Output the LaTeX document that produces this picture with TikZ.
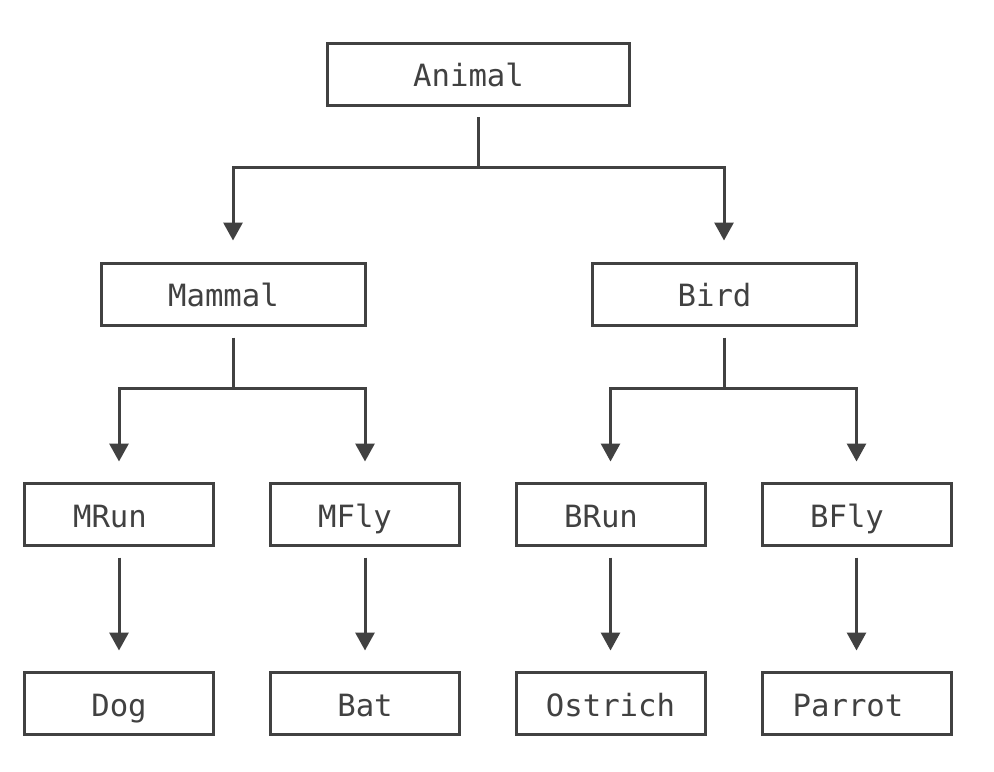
\documentclass[tikz,border=0pt]{standalone}
\usepackage{fontspec}
\setmonofont{DejaVu Sans Mono}
\usetikzlibrary{arrows.meta,calc}
\definecolor{ink}{HTML}{414141}
\tikzset{
  box/.style={draw=ink, line width=2.25pt, minimum height=62*0.75pt, inner sep=0pt, outer sep=0pt},
  bigbox/.style={box, minimum width=302*0.75pt},
  midbox/.style={box, minimum width=264*0.75pt},
  smallbox/.style={box, minimum width=189*0.75pt},
  lbl/.style={anchor=base, inner sep=0pt, text=ink, font=\ttfamily\fontsize{23}{23}\selectfont},
  conn/.style={draw=ink, line width=2.25pt, line join=miter},
  arr/.style={conn, -{Triangle[width=19*0.75pt, length=18*0.75pt]}}
}
\begin{document}
\begin{tikzpicture}[x=0.75pt, y=-0.75pt]
\useasboundingbox[fill=white] (0,0) rectangle (994,771);
% boxes
\node[bigbox] (animal) at (478.5,74) {};
\node[midbox] (mammal) at (233,294.5) {};
\node[midbox] (bird) at (724,294.5) {};
\node[smallbox] (mrun) at (119,514.5) {};
\node[smallbox] (mfly) at (365,514.5) {};
\node[smallbox] (brun) at (610.5,514.5) {};
\node[smallbox] (bfly) at (856.5,514.5) {};
\node[smallbox] (dog) at (119,703.5) {};
\node[smallbox] (bat) at (365,703.5) {};
\node[smallbox] (ostrich) at (610.5,703.5) {};
\node[smallbox] (parrot) at (856.5,703.5) {};
% labels
\node[lbl] (tanimal) at (468.5,86) {Animal};
\node[lbl] (tmammal) at (223.5,306) {Mammal};
\node[lbl] (tbird) at (714.5,306) {Bird};
\node[lbl] (tmrun) at (110,527) {MRun};
\node[lbl] (tmfly) at (355,527) {MFly};
\node[lbl] (tbrun) at (601,527) {BRun};
\node[lbl] (tbfly) at (847,527) {BFly};
\node[lbl] (tdog) at (119,716) {Dog};
\node[lbl] (tbat) at (365,716) {Bat};
\node[lbl] (tostrich) at (610.5,716) {Ostrich};
\node[lbl] (tparrot) at (848,716) {Parrot};
% junctions
\coordinate (j0) at ($(animal.south)+(0,62.5)$);
\coordinate (j1) at ($(mammal.south)+(0,62.5)$);
\coordinate (j2) at ($(bird.south)+(0,62.5)$);
% connectors
\draw[conn, shorten <=12*0.75pt] (animal.south) -- (j0);
\draw[arr, shorten >=23*0.75pt] (j0) -| (mammal.north);
\draw[arr, shorten >=23*0.75pt] (j0) -| (bird.north);
\draw[conn, shorten <=12*0.75pt] (mammal.south) -- (j1);
\draw[arr, shorten >=22*0.75pt] (j1) -| (mrun.north);
\draw[arr, shorten >=22*0.75pt] (j1) -| (mfly.north);
\draw[conn, shorten <=12*0.75pt] (bird.south) -- (j2);
\draw[arr, shorten >=22*0.75pt] (j2) -| (brun.north);
\draw[arr, shorten >=22*0.75pt] (j2) -| (bfly.north);
\draw[arr, shorten <=12*0.75pt, shorten >=22*0.75pt] (mrun.south) -- (dog.north);
\draw[arr, shorten <=12*0.75pt, shorten >=22*0.75pt] (mfly.south) -- (bat.north);
\draw[arr, shorten <=12*0.75pt, shorten >=22*0.75pt] (brun.south) -- (ostrich.north);
\draw[arr, shorten <=12*0.75pt, shorten >=22*0.75pt] (bfly.south) -- (parrot.north);
\end{tikzpicture}
\end{document}
